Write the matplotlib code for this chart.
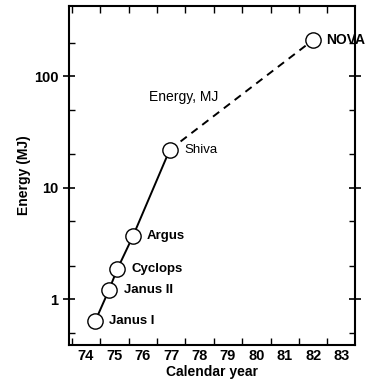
import matplotlib
matplotlib.use("Agg")
import matplotlib.pyplot as plt
from matplotlib.ticker import FixedLocator, NullFormatter, FixedFormatter

plt.rcParams['font.family'] = ['Liberation Sans', 'DejaVu Sans']

names = ["Janus I", "Janus II", "Cyclops", "Argus", "Shiva", "NOVA"]
years = [74.32, 74.8, 75.1, 75.65, 76.95, 82.0]
energy = [0.635, 1.2, 1.86, 3.67, 21.9, 211]
year_ticks = [74, 75, 76, 77, 78, 79, 80, 81, 82, 83]
energy_ticks = [1, 10, 100]

fig = plt.figure(figsize=(3.72, 3.82), dpi=100)
ax = fig.add_axes([0.1855, 0.097, 0.7685, 0.887])
ax.set_yscale('log')
ax.set_xlim(73.4, 83.47)
ax.set_ylim(0.39, 424)

# solid built part, dashed projection
ax.plot(years[:5], energy[:5], '-', color='black', lw=1.4, zorder=2)
ax.plot(years[4:], energy[4:], '--', color='black', lw=1.4, dashes=(4, 3), zorder=2)
ax.plot(years, energy, 'o', ms=11, mfc='white', mec='black', mew=1.0, zorder=3)

offsets = {"Janus I": 0.5, "Janus II": 0.55, "Cyclops": 0.5,
           "Argus": 0.5, "Shiva": 0.5, "NOVA": 0.45}
for n, x, y in zip(names, years, energy):
    w = 'normal' if n == 'Shiva' else 'bold'
    ax.text(x + offsets[n], y, n, ha='left', va='center',
            fontsize=9.5 if n != 'NOVA' else 10, fontweight=w)

ax.text(77.45, 65, "Energy, MJ", ha='center', va='center', fontsize=10)

ax.xaxis.set_major_locator(FixedLocator(year_ticks))
ax.xaxis.set_major_formatter(FixedFormatter([str(t) for t in year_ticks]))
ax.xaxis.set_minor_locator(FixedLocator([t + 0.5 for t in range(73, 84)]))
ax.tick_params(axis='x', which='major', length=0, labelsize=10.5, pad=3)
ax.tick_params(axis='x', which='minor', direction='in', length=5, width=1, top=True, bottom=True)
for lab in ax.get_xticklabels():
    lab.set_fontweight('bold')

ax.yaxis.set_major_locator(FixedLocator(energy_ticks))
ax.yaxis.set_major_formatter(FixedFormatter([str(t) for t in energy_ticks]))
minor = [m * 10.0 ** e for e in (-1, 0, 1, 2) for m in (2, 5)]
ax.yaxis.set_minor_locator(FixedLocator(minor))
ax.yaxis.set_minor_formatter(NullFormatter())
ax.tick_params(axis='y', which='major', direction='inout', length=8, width=1.2, labelsize=10.5,
               left=True, right=True)
ax.tick_params(axis='y', which='minor', direction='in', length=4, width=1, left=True, right=True)
for lab in ax.get_yticklabels():
    lab.set_fontweight('bold')

for s in ax.spines.values():
    s.set_linewidth(1.5)

ax.set_xlabel("Calendar year", fontsize=10, fontweight='bold', labelpad=1)
ax.set_ylabel("Energy (MJ)", fontsize=10, fontweight='bold', labelpad=2)

fig.savefig("out.png", dpi=100)
